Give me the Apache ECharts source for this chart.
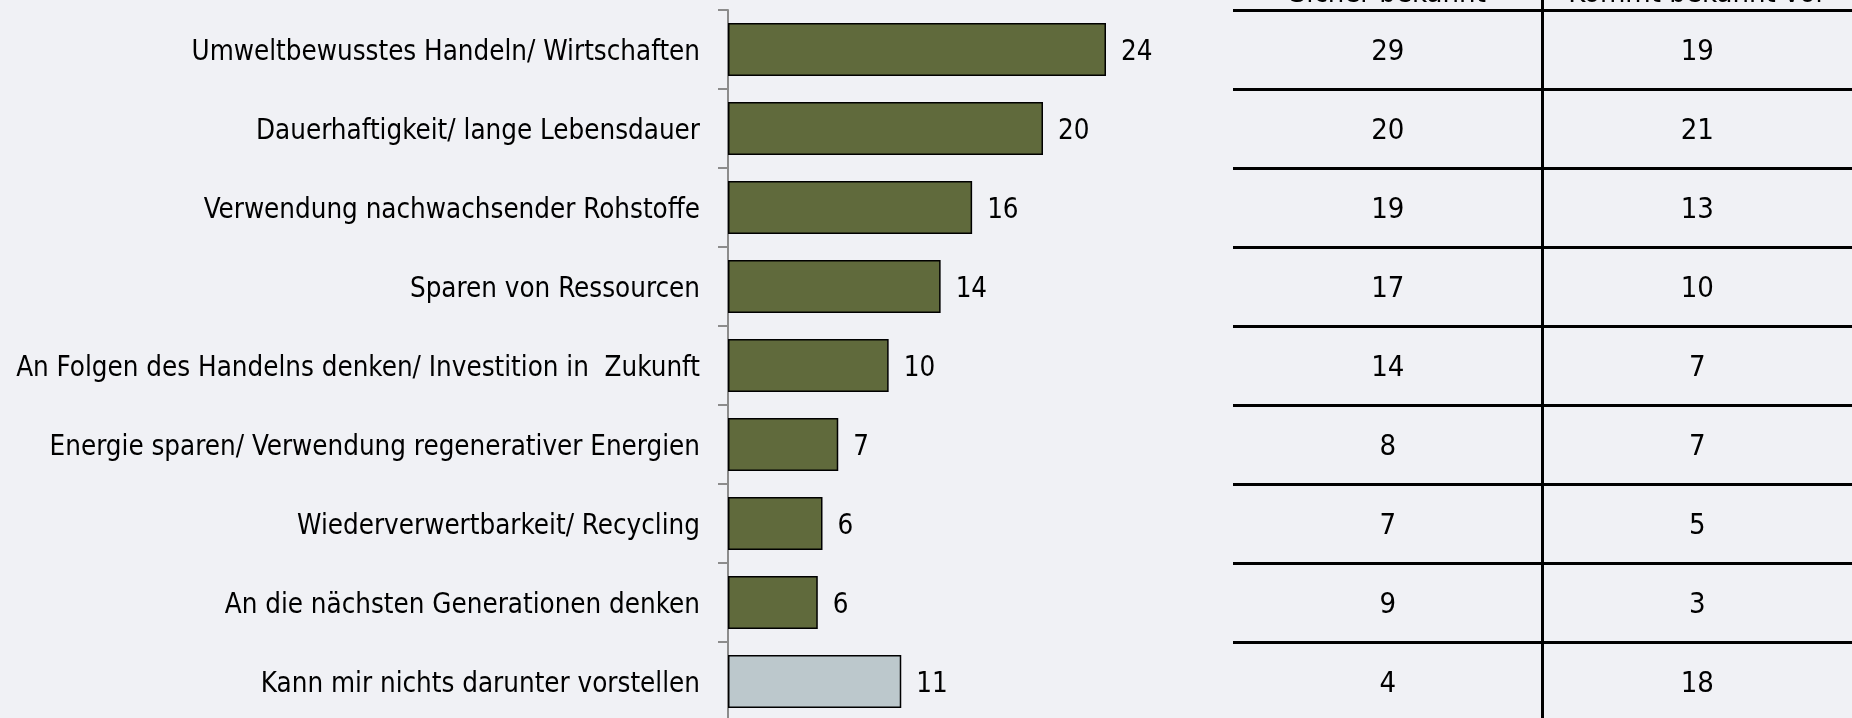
<!DOCTYPE html>
<html>
<head>
<meta charset="utf-8">
<script src="https://cdn.jsdelivr.net/npm/echarts@6/dist/echarts.min.js"></script>
<style>
  html, body { margin: 0; padding: 0; background: #f0f1f5; overflow: hidden; width: 1852px; height: 718px; }
  #chart { position: absolute; left: 0; top: -100px; width: 1852px; height: 918px; }
</style>
</head>
<body>
<div id="chart"></div>
<script>
const categories = [
  'Umweltbewusstes Handeln/ Wirtschaften',
  'Dauerhaftigkeit/ lange Lebensdauer',
  'Verwendung nachwachsender Rohstoffe',
  'Sparen von Ressourcen',
  'An Folgen des Handelns denken/ Investition in  Zukunft',
  'Energie sparen/ Verwendung regenerativer Energien',
  'Wiederverwertbarkeit/ Recycling',
  'An die nächsten Generationen denken',
  'Kann mir nichts darunter vorstellen'
];
const values = [24, 20, 15.5, 13.5, 10.2, 7, 6, 5.7, 11];
const headers = ['Sicher bekannt', 'Kommt bekannt vor'];
const sicherBekannt = [29, 20, 19, 17, 14, 8, 7, 9, 4];
const kommtBekanntVor = [19, 21, 13, 10, 7, 7, 5, 3, 18];

const FONT = '"DejaVu Sans Condensed", "DejaVu Sans", sans-serif';
const FS = 27.5;
const TFS = 29;
const OLIVE = '#606a3c';
const LIGHT = '#bcc8cc';
const BAND = 79;
const SHIFT = 100;          // container is shifted up by this many px
const TOP = 10 + SHIFT;

const tableRows = [''].concat(categories);

const chart = echarts.init(document.getElementById('chart'), null, { renderer: 'canvas' });
chart.setOption({
  backgroundColor: '#f0f1f5',
  animation: false,
  textStyle: { fontFamily: FONT },
  grid: [
    { left: 728, top: TOP, width: 472.5, height: BAND * categories.length, containLabel: false },
    { left: 1233, top: TOP - BAND, width: 636, height: BAND * tableRows.length, containLabel: false }
  ],
  xAxis: [
    { gridIndex: 0, type: 'value', min: 0, max: 30, show: false },
    {
      gridIndex: 1, type: 'category', data: headers, position: 'top',
      axisLine: { show: false }, axisTick: { show: false }, axisLabel: { show: false },
      splitLine: { show: true, interval: 0, showMinLine: false, showMaxLine: false,
                   lineStyle: { color: '#000', width: 3 } }
    }
  ],
  yAxis: [
    {
      gridIndex: 0, type: 'category', data: categories, inverse: true,
      axisLine: { show: true, lineStyle: { color: '#8c8c8c', width: 2 } },
      axisTick: { show: true, length: 10, lineStyle: { color: '#8c8c8c', width: 2 } },
      axisLabel: {
        margin: 28, interval: 0,
        formatter: v => '{l|' + v + '}',
        rich: { l: { fontSize: FS, color: '#000', fontFamily: FONT, padding: [6, 0, 0, 0] } }
      },
      splitLine: { show: false }
    },
    {
      gridIndex: 1, type: 'category', data: tableRows, inverse: true,
      axisLine: { show: false }, axisTick: { show: false }, axisLabel: { show: false },
      splitLine: { show: true, interval: 0, lineStyle: { color: '#000', width: 3 } }
    }
  ],
  series: [
    {
      type: 'bar', xAxisIndex: 0, yAxisIndex: 0,
      data: values,
      barCategoryGap: '33%',
      itemStyle: {
        color: p => (p.dataIndex === categories.length - 1 ? LIGHT : OLIVE),
        borderColor: '#000', borderWidth: 1.5
      },
      label: {
        show: true, position: 'right', distance: 15, offset: [0, 3],
        fontSize: FS, color: '#000', fontFamily: FONT,
        formatter: p => String(Math.round(p.value))
      }
    },
    {
      type: 'scatter', xAxisIndex: 1, yAxisIndex: 1, symbolSize: 0,
      itemStyle: { opacity: 1 },
      data: headers.map((h, i) => [i, 0]),
      label: {
        show: true, position: 'inside', verticalAlign: 'bottom', offset: [0, 38],
        fontSize: TFS, color: '#000', fontFamily: FONT, textBorderWidth: 0,
        formatter: p => headers[p.dataIndex]
      }
    },
    {
      type: 'scatter', xAxisIndex: 1, yAxisIndex: 1, symbolSize: 0,
      itemStyle: { opacity: 1 },
      data: sicherBekannt.map((v, i) => [0, i + 1, v]),
      label: { show: true, position: 'inside', offset: [0, 3], fontSize: TFS, color: '#000',
               fontFamily: FONT, textBorderWidth: 0, formatter: p => String(p.value[2]) }
    },
    {
      type: 'scatter', xAxisIndex: 1, yAxisIndex: 1, symbolSize: 0,
      itemStyle: { opacity: 1 },
      data: kommtBekanntVor.map((v, i) => [1, i + 1, v]),
      label: { show: true, position: 'inside', offset: [0, 3], fontSize: TFS, color: '#000',
               fontFamily: FONT, textBorderWidth: 0, formatter: p => String(p.value[2]) }
    }
  ]
});
</script>
</body>
</html>
